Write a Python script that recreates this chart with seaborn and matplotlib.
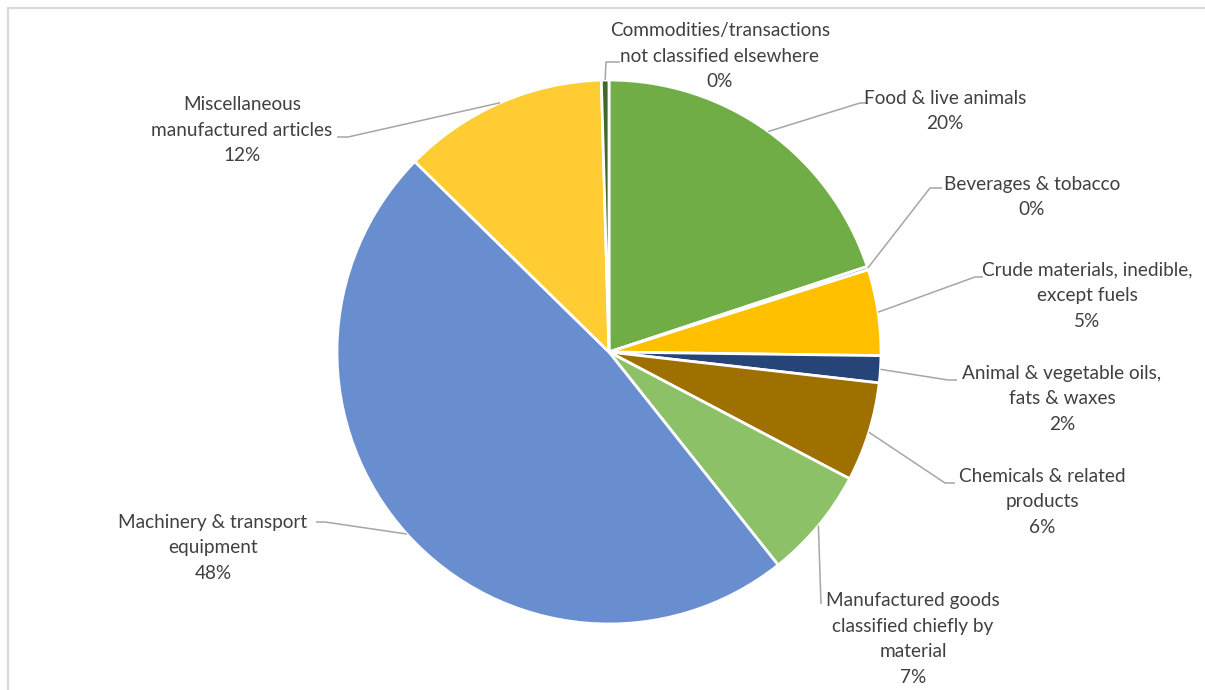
import matplotlib
matplotlib.use("Agg")
import matplotlib.pyplot as plt
import seaborn as sns
import numpy as np
from matplotlib.patches import Rectangle

sns.set_theme(style="white")
plt.rcParams['font.family'] = ['Lato', 'DejaVu Sans']

# ---- data ----
categories = [
    "Food & live animals",
    "Beverages & tobacco",
    "Crude materials, inedible,\nexcept fuels",
    "Animal & vegetable oils,\nfats & waxes",
    "Chemicals & related\nproducts",
    "Manufactured goods\nclassified chiefly by\nmaterial",
    "Machinery & transport\nequipment",
    "Miscellaneous\nmanufactured articles",
    "Commodities/transactions\nnot classified elsewhere",
]
values = [19.9, 0.2, 5.1, 1.6, 5.9, 6.6, 48.0, 12.2, 0.45]
colors = ["#70AD47", "#5B9BD5", "#FFC000", "#264478", "#9E7000",
          "#8CC168", "#698ED0", "#FFCD33", "#43682B"]

# ---- layout (pixels in a 1205x690 canvas) ----
W, H = 1205, 690
CX, CY, R = 609, 352, 272
label_pos = [(945, 111), (1032, 197), (1087, 296), (1062, 399), (1042, 502),
             (913, 639), (213, 548), (242, 130), (720, 56)]
elbow_pos = [(860, 103), (930, 188), (975, 277), (948, 380), (945, 483),
             (821, 604), (325, 522), (348, 137), (606, 62)]
end_pos = [(868, 103), (942, 188), (983, 277), (957, 380), (955, 483),
           (821, 604), (316, 522), (337, 137), (620, 62)]


def px(x, y):
    return ((x - CX) / R, (CY - y) / R)


fig = plt.figure(figsize=(W / 100, H / 100), dpi=100)
ax = fig.add_axes([0, 0, 1, 1])

wedges, _ = ax.pie(values, colors=colors, startangle=90, counterclock=False,
                   radius=1.0, center=(0, 0),
                   wedgeprops=dict(edgecolor="white", linewidth=2))

ax.set_xlim(-CX / R, (W - CX) / R)
ax.set_ylim(-(H - CY) / R, CY / R)
ax.set_aspect('equal')
ax.axis('off')

total = sum(values)
for w, cat, v, lp, ep, en in zip(wedges, categories, values, label_pos, elbow_pos, end_pos):
    mid = np.deg2rad((w.theta1 + w.theta2) / 2)
    sx, sy = np.cos(mid), np.sin(mid)
    e1 = px(*ep)
    e2 = px(*en)
    ax.plot([sx, e1[0], e2[0]], [sy, e1[1], e2[1]], color="#A6A6A6", lw=1.1,
            solid_capstyle='butt', zorder=3)
    pct = f"{round(v / total * 100):.0f}%"
    tx, ty = px(*lp)
    ax.text(tx, ty, f"{cat}\n{pct}", ha="center", va="center", fontsize=13.7,
            color="#404040", linespacing=1.62)

fig.add_artist(Rectangle((8 / W, -0.1), 1.2, 1.1 - 8 / H + 0.0,
                         transform=fig.transFigure, fill=False,
                         edgecolor="#D9D9D9", lw=1.5))

fig.savefig("out.png", dpi=100, facecolor="white")
